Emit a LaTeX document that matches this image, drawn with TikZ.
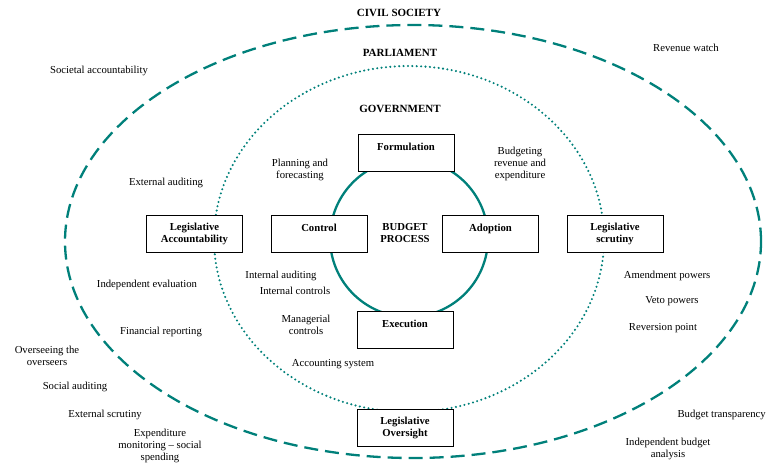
\documentclass[tikz,border=0pt]{standalone}
\usepackage{fontspec}
\setmainfont{Liberation Serif}
\definecolor{tealc}{RGB}{0,128,122}
\begin{document}
\begin{tikzpicture}[x=1pt,y=-1pt,
  lbl/.style={font=\fontsize{10.7}{12}\selectfont, align=center, inner sep=0pt},
  hdr/.style={font=\fontsize{11}{12}\selectfont\bfseries, inner sep=0pt},
  stage/.style={draw=black, line width=1pt, fill=white, minimum width=96pt,
    minimum height=37pt, align=center, inner sep=0pt,
    font=\fontsize{10.7}{12}\selectfont\bfseries},
  civil/.style={draw=tealc, line width=2.3pt, dash pattern=on 14pt off 7pt},
  parl/.style={draw=tealc, line width=2.3pt, line cap=round, dash pattern=on 0pt off 4.4pt},
  cyc/.style={draw=tealc, line width=2.3pt}]
\useasboundingbox (0,0) rectangle (767,464);

% rings
\coordinate (cs) at (413,241.5);
\coordinate (pa) at (409,239);
\coordinate (bp) at (409,238);
\draw[civil] (cs) ellipse [x radius=348pt, y radius=216.5pt];
\draw[parl] (pa) ellipse [x radius=195pt, y radius=173pt];
\draw[cyc] (bp) circle [radius=79pt];

% headers
\node[hdr] (civ) at (399,13) {CIVIL SOCIETY};
\node[hdr] (par) at (400,53) {PARLIAMENT};
\node[hdr] (gov) at (400,109) {GOVERNMENT};
\node[lbl, font=\fontsize{10.7}{12}\selectfont\bfseries] (bud) at (405,233) {BUDGET\\PROCESS};

% stage boxes
\node[stage] (form) at (406,153) {Formulation\\\phantom{X}};
\node[stage] (ctrl) at (319,234) {Control\\\phantom{X}};
\node[stage] (adop) at (490.5,234) {Adoption\\\phantom{X}};
\node[stage] (exec) at (405,330) {Execution\\\phantom{X}};
\node[stage] (lacc) at (194.5,234) {Legislative\\Accountability};
\node[stage] (lscr) at (615,234) {Legislative\\scrutiny};
\node[stage] (lovs) at (405,428) {Legislative\\Oversight};

% labels
\node[lbl] (soc) at (99,71) {Societal accountability};
\node[lbl] (rev) at (686,48) {Revenue watch};
\node[lbl] (ext) at (166,183) {External auditing};
\node[lbl] (plan) at (300,170) {Planning and\\forecasting};
\node[lbl] (bre) at (520,164) {Budgeting\\revenue and\\expenditure};
\node[lbl] (iaud) at (281,276) {Internal auditing};
\node[lbl] (ictl) at (295,291) {Internal controls};
\node[lbl] (ieva) at (147,285) {Independent evaluation};
\node[lbl] (mctl) at (306,324.5) {Managerial\\controls};
\node[lbl] (frep) at (161,332) {Financial reporting};
\node[lbl] (over) at (47,355.5) {Overseeing the\\overseers};
\node[lbl] (acc) at (333,364) {Accounting system};
\node[lbl] (saud) at (75,387) {Social auditing};
\node[lbl] (escr) at (105,415) {External scrutiny};
\node[lbl] (expm) at (160,446) {Expenditure\\monitoring -- social\\spending};
\node[lbl] (amen) at (667,276) {Amendment powers};
\node[lbl] (veto) at (672,301) {Veto powers};
\node[lbl] (revp) at (663,328) {Reversion point};
\node[lbl, anchor=east] (btra) at (766,415) {Budget transparency};
\node[lbl] (iba) at (668,449) {Independent budget\\analysis};
\end{tikzpicture}
\end{document}
